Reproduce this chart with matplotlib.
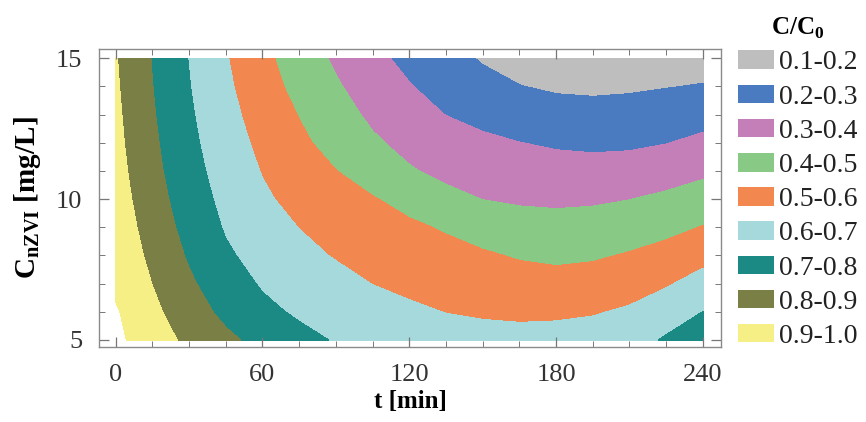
import numpy as np
import matplotlib.pyplot as plt
from matplotlib.patches import Patch

plt.rcParams['font.family'] = ['Liberation Serif', 'DejaVu Serif']
plt.rcParams['mathtext.fontset'] = 'custom'
plt.rcParams['mathtext.rm'] = 'Liberation Serif'
plt.rcParams['mathtext.bf'] = 'Liberation Serif:bold'

# time axis [min] and nZVI dose [mg/L]
t_min = [0, 15, 30, 45, 60, 75, 90, 105, 120, 135, 150, 165, 180, 195, 210, 225, 240]
c_nzvi = [5, 6, 7, 8, 9, 10, 11, 12, 13, 14, 15]

# C/C0, one row per dose
ratio_c5 = [1.023, 0.946, 0.877, 0.819, 0.771, 0.726, 0.693, 0.675, 0.658, 0.645, 0.636, 0.632, 0.634, 0.642, 0.660, 0.710, 0.767]
ratio_c6 = [1.011, 0.921, 0.843, 0.776, 0.722, 0.686, 0.664, 0.641, 0.618, 0.597, 0.586, 0.580, 0.583, 0.592, 0.612, 0.652, 0.700]
ratio_c7 = [0.982, 0.898, 0.814, 0.744, 0.690, 0.659, 0.629, 0.598, 0.575, 0.558, 0.545, 0.535, 0.532, 0.540, 0.559, 0.590, 0.635]
ratio_c8 = [0.969, 0.877, 0.788, 0.713, 0.666, 0.626, 0.593, 0.570, 0.550, 0.530, 0.510, 0.492, 0.481, 0.488, 0.507, 0.530, 0.570]
ratio_c9 = [0.957, 0.858, 0.766, 0.691, 0.640, 0.598, 0.568, 0.542, 0.516, 0.490, 0.462, 0.442, 0.432, 0.437, 0.452, 0.475, 0.503]
ratio_c10 = [0.945, 0.841, 0.748, 0.674, 0.614, 0.571, 0.539, 0.506, 0.467, 0.426, 0.398, 0.386, 0.383, 0.387, 0.398, 0.418, 0.442]
ratio_c11 = [0.934, 0.827, 0.734, 0.658, 0.595, 0.546, 0.501, 0.452, 0.408, 0.376, 0.355, 0.342, 0.335, 0.333, 0.339, 0.355, 0.381]
ratio_c12 = [0.925, 0.817, 0.722, 0.643, 0.577, 0.519, 0.464, 0.413, 0.373, 0.344, 0.320, 0.301, 0.288, 0.281, 0.284, 0.297, 0.320]
ratio_c13 = [0.918, 0.808, 0.712, 0.629, 0.559, 0.496, 0.437, 0.382, 0.335, 0.298, 0.269, 0.248, 0.236, 0.232, 0.236, 0.248, 0.265]
ratio_c14 = [0.911, 0.801, 0.703, 0.617, 0.539, 0.471, 0.410, 0.355, 0.305, 0.261, 0.226, 0.202, 0.187, 0.182, 0.187, 0.196, 0.205]
ratio_c15 = [0.905, 0.795, 0.696, 0.606, 0.524, 0.451, 0.385, 0.325, 0.273, 0.228, 0.192, 0.164, 0.145, 0.135, 0.133, 0.141, 0.157]

levels = [0.1, 0.2, 0.3, 0.4, 0.5, 0.6, 0.7, 0.8, 0.9, 1.0]
level_labels = ['0.1-0.2', '0.2-0.3', '0.3-0.4', '0.4-0.5', '0.5-0.6',
                '0.6-0.7', '0.7-0.8', '0.8-0.9', '0.9-1.0']
band_colors = ['#bebebe', '#4a7bc0', '#c47fb8', '#88c986', '#f28850',
               '#a6d9db', '#1b8a84', '#7a7f46', '#f6ef86']

Z = np.array([ratio_c5, ratio_c6, ratio_c7, ratio_c8, ratio_c9, ratio_c10,
              ratio_c11, ratio_c12, ratio_c13, ratio_c14, ratio_c15])

fig = plt.figure(figsize=(8.66, 4.22), dpi=100)
ax = fig.add_axes([99 / 866, 75 / 422, 622 / 866, 298 / 422])

cs = ax.contourf(t_min, c_nzvi, Z, levels=levels, colors=band_colors)
cs.set_edgecolor('face')
cs.set_linewidth(0.4)

ax.set_xlim(-6.8, 247.4)
ax.set_ylim(4.75, 15.33)
ax.set_xticks([0, 60, 120, 180, 240])
ax.set_xticks(np.arange(0, 241, 15), minor=True)
ax.set_yticks([5, 10, 15])
ax.set_yticks(np.arange(5, 16, 1), minor=True)
ax.tick_params(which='both', direction='in', top=True, right=True, color='#777777')
ax.tick_params(which='major', length=7, width=0.9, labelsize=19, labelcolor='#333333')
ax.tick_params(which='minor', length=4, width=0.7)
ax.tick_params(axis='x', which='major', pad=12)
ax.tick_params(axis='y', which='major', pad=12)
for s in ax.spines.values():
    s.set_color('#8a8a8a')
    s.set_linewidth(1.0)

ax.set_xlabel('t [min]', fontsize=18, fontweight='bold', labelpad=3)
ax.set_ylabel(r'C$_{\mathbf{nZVI}}$ [mg/L]', fontsize=21, fontweight='bold', labelpad=9)

handles = [Patch(facecolor=c, edgecolor='none') for c in band_colors]
leg = fig.legend(handles, level_labels, loc='upper left', bbox_to_anchor=(0.852, 0.962),
                 frameon=False, fontsize=20, title=r'C/C$_\mathbf{0}$',
                 title_fontproperties={'weight': 'bold', 'size': 18},
                 handlelength=1.3, handleheight=0.65, handletextpad=0.2,
                 labelspacing=0.33, borderpad=0, borderaxespad=0)
for txt in leg.get_texts():
    txt.set_color('#222222')

fig.savefig('out.png', dpi=100)
